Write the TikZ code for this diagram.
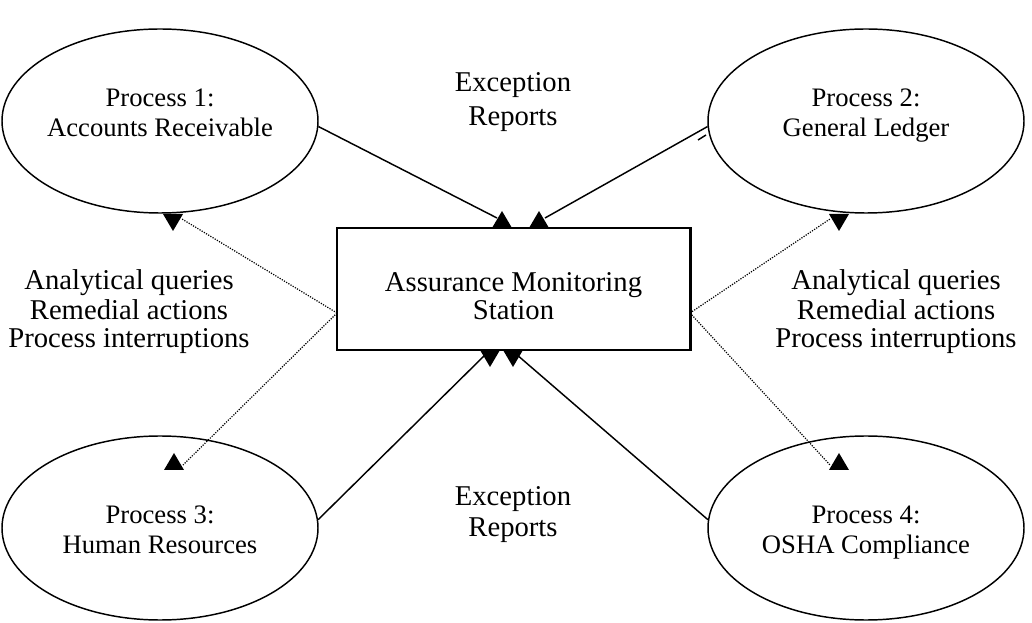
\documentclass[tikz,border=0pt]{standalone}
\usepackage{fontspec}
\setmainfont{Liberation Serif}
\usetikzlibrary{shapes.geometric}
\tikzset{
  proc/.style={draw, ellipse, line width=1.1pt, minimum width=237pt, minimum height=138pt, inner sep=0pt},
  ptext/.style={align=center, inner sep=0pt, font=\fontsize{20}{22.5}\selectfont},
  lab/.style={align=center, font=\fontsize{21.5}{21}\selectfont, inner sep=0pt},
  solidc/.style={line width=1.1pt},
  dotc/.style={line width=0.9pt, densely dotted},
}
\newcommand\tridn[1]{\fill (#1) ++(-10,0) -- ++(20,0) -- ++(-10,17) -- cycle;}
\newcommand\triup[1]{\fill (#1) ++(-10,0) -- ++(20,0) -- ++(-10,-17) -- cycle;}
\begin{document}
\begin{tikzpicture}[x=0.75pt,y=-0.75pt]
\useasboundingbox (0,0) rectangle (1032,623);
\node[proc] (p1) at (160,121) {};
\node[proc] (p2) at (866,121) {};
\node[proc] (p3) at (160,528) {};
\node[proc] (p4) at (866,528) {};
\node[ptext] (p1t) at (p1) [yshift=4pt] {\strut Process 1:\\\strut Accounts Receivable};
\node[ptext] (p2t) at (p2) [yshift=4pt] {\strut Process 2:\\\strut General Ledger};
\node[ptext] (p3t) at (p3) [yshift=-3.5pt] {\strut Process 3:\\\strut Human Resources};
\node[ptext] (p4t) at (p4) [yshift=-3.5pt] {\strut Process 4:\\\strut OSHA Compliance};
\node[draw, line width=2pt, minimum width=265pt, minimum height=91.5pt] (box) at (513.5,289) {};
\node[lab] (boxt) at (513.5,300) {\strut Assurance Monitoring\\\strut Station};
\node[lab, font=\fontsize{21.5}{25}\selectfont] (ert) at (513,102) {\strut Exception\\\strut Reports};
\node[lab, font=\fontsize{21.5}{22.5}\selectfont] (erb) at (513,515) {\strut Exception\\\strut Reports};
\node[lab] (al) at (129,313) {\strut Analytical queries\\\strut Remedial actions\\\strut Process interruptions};
\node[lab] (ar) at (896,313) {\strut Analytical queries\\\strut Remedial actions\\\strut Process interruptions};
% arrow marks
\coordinate (a1) at (502,228);
\coordinate (a2) at (539,228);
\coordinate (a3) at (490,350);
\coordinate (a4) at (513,350);
\coordinate (d1) at (173,214);
\coordinate (d2) at (839,214);
\coordinate (d3) at (174,470);
\coordinate (d4) at (839,470);
\triup{a1} \triup{a2}
\tridn{a3} \tridn{a4}
\tridn{d1} \tridn{d2}
\triup{d3} \triup{d4}
% solid connectors
\coordinate (e1) at (497,218);
\coordinate (e2) at (545,218);
\coordinate (e3) at (486,354);
\coordinate (e4) at (516,354);
\draw[solidc] (p1.-2) -- (e1);
\draw[solidc] (p2.182) -- (e2);
\draw[solidc] (698,140) -- (706,135);
\draw[solidc] (p3.3) -- (e3);
\draw[solidc] (p4.177) -- (e4);
% dotted connectors
\coordinate (L) at (337,313);
\coordinate (R) at (690,313);
\coordinate (f1) at (182,219);
\coordinate (f2) at (830,219);
\coordinate (f3) at (183,465);
\coordinate (f4) at (830,465);
\draw[dotc] (L) -- (f1);
\draw[dotc] (L) -- (f3);
\draw[dotc] (R) -- (f2);
\draw[dotc] (R) -- (f4);
\end{tikzpicture}
\end{document}
